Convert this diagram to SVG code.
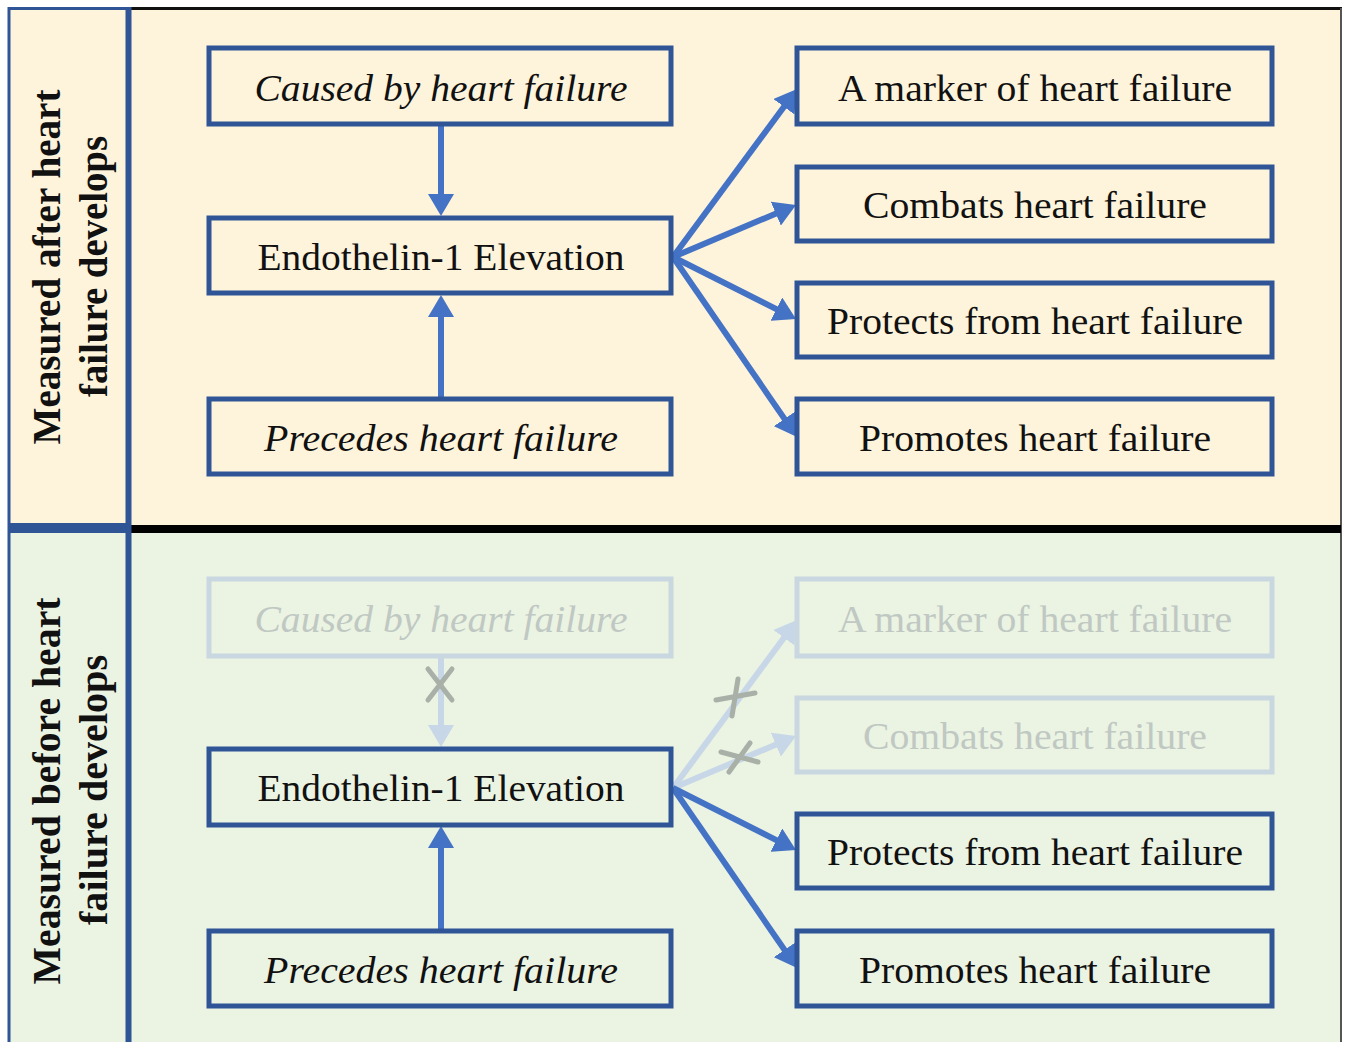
<svg xmlns="http://www.w3.org/2000/svg" width="1346" height="1042" viewBox="0 0 1346 1042">
<defs>
<style>
.box{fill:none;stroke:#2F5597;stroke-width:5}
.fbox{fill:none;stroke:#C9D7E0;stroke-width:5}
.t{font-family:"Liberation Serif","Times New Roman",serif;font-size:37px;fill:#111;text-anchor:middle}
.it{font-style:italic}
.ft{fill:#BFC8C2}
.lab{font-family:"Liberation Serif","Times New Roman",serif;font-size:40px;font-weight:bold;fill:#111;text-anchor:middle}
.arr{stroke:#4472C4;stroke-width:6;fill:none;marker-end:url(#ah)}
.farr{stroke:#C7D7E7;stroke-width:6;fill:none;marker-end:url(#fah)}
.x{stroke:#A8B0A8;stroke-width:5;stroke-linecap:round;fill:none}
</style>
<marker id="ah" viewBox="0 0 22 26" refX="10" refY="13" markerWidth="22" markerHeight="26" markerUnits="userSpaceOnUse" orient="auto">
<path d="M0,0 L22,13 L0,26 z" fill="#4472C4"/>
</marker>
<marker id="fah" viewBox="0 0 22 26" refX="10" refY="13" markerWidth="22" markerHeight="26" markerUnits="userSpaceOnUse" orient="auto">
<path d="M0,0 L22,13 L0,26 z" fill="#C7D7E7"/>
</marker>
</defs>
<rect width="1346" height="1042" fill="#ffffff"/>
<g id="background">
<rect x="8" y="8" width="1333" height="521" fill="#FEF4DC"/>
<rect x="8" y="529" width="1333" height="513" fill="#EBF3E3"/>
<line x1="130" y1="8.5" x2="1342" y2="8.5" stroke="#111" stroke-width="3"/>
<line x1="1341" y1="8" x2="1341" y2="1042" stroke="#555" stroke-width="2"/>
<line x1="130" y1="529" x2="1341" y2="529" stroke="#000" stroke-width="8"/>
<line x1="8" y1="528" x2="130" y2="528" stroke="#2F5597" stroke-width="10"/>
<line x1="9" y1="7" x2="9" y2="1042" stroke="#2F5597" stroke-width="3"/>
<line x1="8" y1="8.5" x2="130" y2="8.5" stroke="#2F5597" stroke-width="3"/>
<line x1="128.5" y1="7" x2="128.5" y2="1042" stroke="#2F5597" stroke-width="6"/>
</g>
<g id="label-top">
<text class="lab" transform="translate(60,267) rotate(-90)" textLength="355" lengthAdjust="spacingAndGlyphs">Measured after heart</text>
<text class="lab" transform="translate(107,266.5) rotate(-90)" textLength="261" lengthAdjust="spacingAndGlyphs">failure develops</text>
</g>
<g id="label-bottom">
<text class="lab" transform="translate(60,791) rotate(-90)" textLength="387" lengthAdjust="spacingAndGlyphs">Measured before heart</text>
<text class="lab" transform="translate(107,790) rotate(-90)" textLength="270" lengthAdjust="spacingAndGlyphs">failure develops</text>
</g>
<g id="connectors">
<line class="arr" x1="441" y1="125" x2="441" y2="204"/>
<line class="arr" x1="441" y1="398" x2="441" y2="307"/>
<line class="arr" x1="673" y1="257" x2="789.9" y2="98.7"/>
<line class="arr" x1="673" y1="257" x2="785" y2="209.7"/>
<line class="arr" x1="673" y1="257" x2="785.3" y2="313.6"/>
<line class="arr" x1="673" y1="257" x2="790.2" y2="427.1"/>
<line class="farr" x1="441" y1="657" x2="441" y2="735"/>
<line class="arr" x1="441" y1="930" x2="441" y2="838"/>
<line class="farr" x1="673" y1="788" x2="789.9" y2="629.7"/>
<line class="farr" x1="673" y1="788" x2="785" y2="740.7"/>
<line class="arr" x1="673" y1="788" x2="785.3" y2="844.6"/>
<line class="arr" x1="673" y1="788" x2="790.2" y2="958.1"/>
<path class="x" d="M428,669 L452,700 M452,669 L428,700"/>
<path class="x" d="M716,700 L755,693 M738,679 L732,716"/>
<path class="x" d="M721,752 L758,762 M750,743 L729,772"/>
</g>
<g id="top-caused"><rect class="box" x="209" y="48" width="462" height="76"/><text class="t it" x="441" y="101" textLength="373" lengthAdjust="spacingAndGlyphs">Caused by heart failure</text></g>
<g id="top-endothelin"><rect class="box" x="209" y="218" width="462" height="75"/><text class="t" x="441" y="270" textLength="367" lengthAdjust="spacingAndGlyphs">Endothelin-1 Elevation</text></g>
<g id="top-precedes"><rect class="box" x="209" y="399" width="462" height="75"/><text class="t it" x="441" y="451" textLength="354" lengthAdjust="spacingAndGlyphs">Precedes heart failure</text></g>
<g id="top-marker"><rect class="box" x="797" y="48" width="475" height="76"/><text class="t" x="1035" y="101" textLength="394" lengthAdjust="spacingAndGlyphs">A marker of heart failure</text></g>
<g id="top-combats"><rect class="box" x="797" y="167" width="475" height="74"/><text class="t" x="1035" y="218" textLength="344" lengthAdjust="spacingAndGlyphs">Combats heart failure</text></g>
<g id="top-protects"><rect class="box" x="797" y="283" width="475" height="74"/><text class="t" x="1035" y="334" textLength="416" lengthAdjust="spacingAndGlyphs">Protects from heart failure</text></g>
<g id="top-promotes"><rect class="box" x="797" y="399" width="475" height="75"/><text class="t" x="1035" y="451" textLength="352" lengthAdjust="spacingAndGlyphs">Promotes heart failure</text></g>
<g id="bot-caused"><rect class="fbox" x="209" y="579" width="462" height="77"/><text class="t it ft" x="441" y="632" textLength="373" lengthAdjust="spacingAndGlyphs">Caused by heart failure</text></g>
<g id="bot-endothelin"><rect class="box" x="209" y="749" width="462" height="76"/><text class="t" x="441" y="801" textLength="367" lengthAdjust="spacingAndGlyphs">Endothelin-1 Elevation</text></g>
<g id="bot-precedes"><rect class="box" x="209" y="931" width="462" height="75"/><text class="t it" x="441" y="983" textLength="354" lengthAdjust="spacingAndGlyphs">Precedes heart failure</text></g>
<g id="bot-marker"><rect class="fbox" x="797" y="579" width="475" height="77"/><text class="t ft" x="1035" y="632" textLength="394" lengthAdjust="spacingAndGlyphs">A marker of heart failure</text></g>
<g id="bot-combats"><rect class="fbox" x="797" y="698" width="475" height="74"/><text class="t ft" x="1035" y="749" textLength="344" lengthAdjust="spacingAndGlyphs">Combats heart failure</text></g>
<g id="bot-protects"><rect class="box" x="797" y="814" width="475" height="74"/><text class="t" x="1035" y="865" textLength="416" lengthAdjust="spacingAndGlyphs">Protects from heart failure</text></g>
<g id="bot-promotes"><rect class="box" x="797" y="931" width="475" height="75"/><text class="t" x="1035" y="983" textLength="352" lengthAdjust="spacingAndGlyphs">Promotes heart failure</text></g>
</svg>
